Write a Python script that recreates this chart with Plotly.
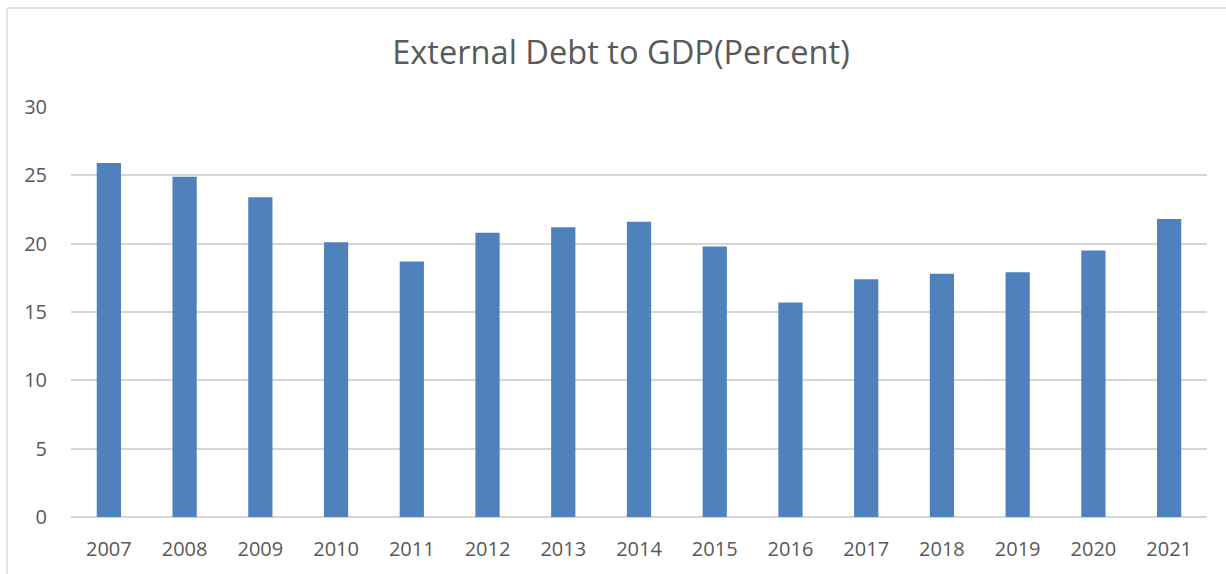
import plotly.graph_objects as go

years = ["2007", "2008", "2009", "2010", "2011", "2012", "2013", "2014",
         "2015", "2016", "2017", "2018", "2019", "2020", "2021"]
debt_to_gdp = [25.9, 24.9, 23.4, 20.1, 18.7, 20.8, 21.2, 21.6,
               19.8, 15.7, 17.4, 17.8, 17.9, 19.5, 21.8]
y_ticks = [0, 5, 10, 15, 20, 25, 30]

W, H = 1226, 574
L, R, T, B = 71, 19, 107, 57

fig = go.Figure(go.Bar(
    x=years, y=debt_to_gdp,
    marker=dict(color="#4f81bd", line=dict(width=0)),
))

pw = W - L - R
ph = H - T - B

fig.update_layout(
    width=W, height=H,
    margin=dict(l=L, r=R, t=T, b=B),
    paper_bgcolor="white", plot_bgcolor="white",
    bargap=0.68,
    showlegend=False,
    font=dict(family="Open Sans", color="#595959"),
    title=dict(text="External Debt to GDP(Percent)", x=621 / W, xanchor="center",
               y=1 - 53 / H, yanchor="middle",
               font=dict(family="Open Sans", size=32.6, color="#595959")),
    xaxis=dict(type="category", showgrid=False, showline=False, ticks="",
               tickfont=dict(size=20, color="#595959"), ticklabelstandoff=18),
    yaxis=dict(range=[0, 30], tickvals=y_ticks, showgrid=True, gridcolor="#d6d6d6",
               gridwidth=1.5, zeroline=True, zerolinecolor="#d6d6d6", zerolinewidth=1.5,
               showline=False, ticks="", tickfont=dict(size=20, color="#595959"),
               ticklabelstandoff=23),
    shapes=[
        dict(type="line", xref="paper", yref="paper",
             x0=(7 - L) / pw, x1=(W + 10 - L) / pw,
             y0=(H - B - 8) / ph, y1=(H - B - 8) / ph,
             line=dict(color="#d9d9d9", width=1.5)),
        dict(type="line", xref="paper", yref="paper",
             x0=(7 - L) / pw, x1=(7 - L) / pw,
             y0=(H - B - 8) / ph, y1=-B / ph - 0.05,
             line=dict(color="#d9d9d9", width=1.5)),
    ],
)

fig.write_html("out.html", config={"displayModeBar": False},
               post_script="document.body.style.margin='0';")
